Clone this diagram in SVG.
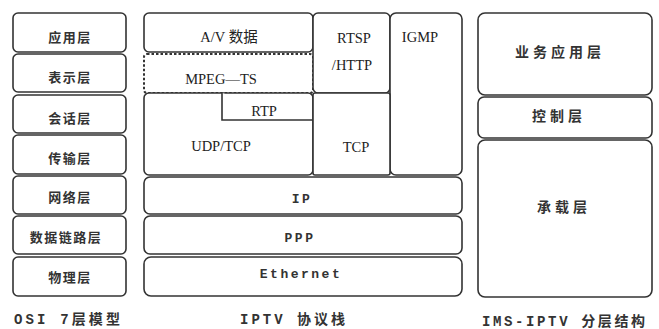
<svg xmlns="http://www.w3.org/2000/svg" width="659" height="329" viewBox="0 0 659 329">
<style>
.b{fill:#fff;stroke:#333;stroke-width:1.6}
.d{fill:#fff;stroke:#333;stroke-width:2;stroke-dasharray:2.5 2}
.cn{font-family:"Noto Sans CJK SC",sans-serif;font-weight:bold;font-size:13px;fill:#333;text-anchor:middle;letter-spacing:1.5px}
.cr{font-family:"Noto Sans CJK SC",sans-serif;font-weight:bold;font-size:14px;fill:#333;text-anchor:middle;letter-spacing:4px}
.tm{font-family:"Liberation Serif","Noto Sans CJK SC",serif;font-size:14.5px;fill:#222;text-anchor:middle}
.mo{font-family:"Liberation Mono",monospace;font-weight:bold;font-size:13px;fill:#333;text-anchor:middle;letter-spacing:2.5px}
.cap{font-family:"Liberation Mono","Noto Sans CJK SC",monospace;font-weight:bold;font-size:14px;fill:#333}
</style>
<rect width="659" height="329" fill="#fff"/>
<g id="osi">
<g id="osi-app"><rect class="b" x="13" y="13" width="113" height="39" rx="5"/><text class="cn" x="70" y="42">应用层</text></g>
<g id="osi-pres"><rect class="b" x="13" y="54" width="113" height="38" rx="5"/><text class="cn" x="70" y="82">表示层</text></g>
<g id="osi-sess"><rect class="b" x="13" y="95" width="113" height="38" rx="5"/><text class="cn" x="70" y="123">会话层</text></g>
<g id="osi-trans"><rect class="b" x="13" y="135" width="113" height="39" rx="5"/><text class="cn" x="70" y="163">传输层</text></g>
<g id="osi-net"><rect class="b" x="13" y="176" width="113" height="38" rx="5"/><text class="cn" x="70" y="202">网络层</text></g>
<g id="osi-link"><rect class="b" x="13" y="216" width="113" height="38" rx="5"/><text class="cn" x="66" y="242">数据链路层</text></g>
<g id="osi-phy"><rect class="b" x="13" y="257" width="113" height="39" rx="5"/><text class="cn" x="70" y="282">物理层</text></g>
</g>
<g id="iptv">
<g id="av"><rect class="b" x="144" y="13" width="169" height="39" rx="5"/><text class="tm" x="229" y="42">A/V 数据</text></g>
<g id="mpeg"><rect class="d" x="144" y="54" width="169" height="39" rx="3"/><text class="tm" x="221" y="84">MPEG—TS</text></g>
<g id="rtsp"><rect class="b" x="313" y="13" width="77" height="80" rx="5"/><text class="tm" x="354" y="43">RTSP</text><text class="tm" x="352" y="70">/HTTP</text></g>
<g id="igmp"><rect class="b" x="390" y="13" width="72" height="162" rx="6"/><text class="tm" x="420" y="42">IGMP</text></g>
<g id="udp"><rect class="b" x="144" y="93" width="169" height="82" rx="5"/><text class="tm" x="221" y="151">UDP/TCP</text></g>
<g id="rtp"><path class="b" d="M222 93 V120 H313" fill="none"/><text class="tm" x="264" y="116">RTP</text></g>
<g id="tcp"><rect class="b" x="313" y="93" width="77" height="82" rx="2"/><text class="tm" x="356" y="152">TCP</text></g>
<g id="ip"><rect class="b" x="144" y="177" width="318" height="37" rx="6"/><text class="mo" x="302" y="203">IP</text></g>
<g id="ppp"><rect class="b" x="144" y="216" width="318" height="38" rx="6"/><text class="mo" x="300" y="242">PPP</text></g>
<g id="eth"><rect class="b" x="144" y="257" width="318" height="39" rx="7"/><text class="mo" x="301" y="278">Ethernet</text></g>
</g>
<g id="ims">
<g id="svc"><rect class="b" x="478" y="13" width="174" height="82" rx="7"/><text class="cr" x="560" y="57">业务应用层</text></g>
<g id="ctl"><rect class="b" x="478" y="97" width="174" height="41" rx="6"/><text class="cr" x="559" y="121">控制层</text></g>
<g id="bear"><rect class="b" x="478" y="140" width="174" height="157" rx="7"/><text class="cr" x="564" y="212">承载层</text></g>
</g>
<g id="connectors"></g>
<g id="captions">
<text class="cap" x="14" y="324" textLength="106" lengthAdjust="spacing">OSI 7层模型</text>
<text class="cap" x="240" y="324" textLength="105" lengthAdjust="spacing">IPTV 协议栈</text>
<text class="cap" x="482" y="326" textLength="163" lengthAdjust="spacing">IMS-IPTV 分层结构</text>
</g>
</svg>
